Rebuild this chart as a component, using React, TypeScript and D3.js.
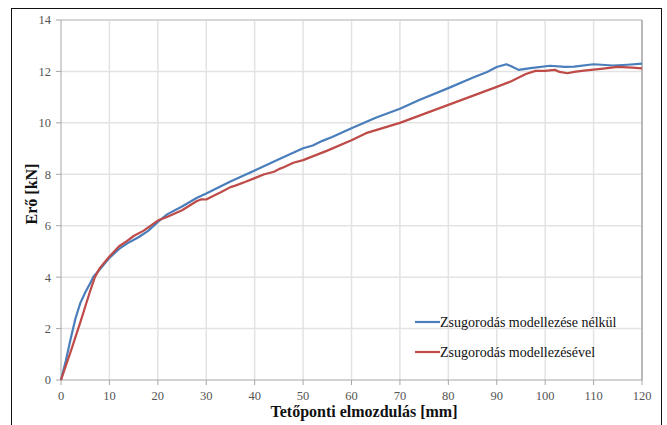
import React from "react";
import * as d3 from "d3";

// Roof displacement [mm] and force [kN] for the two models
const blueX = [0, 1, 2, 3, 4, 4.6, 5, 6, 6.7, 8, 10, 12, 14, 16, 18, 20, 22, 25, 28, 30, 35, 40, 45, 50, 52, 54, 56, 60, 65, 70, 74, 80, 85, 88, 90, 92, 93, 94.5, 97, 101, 104, 106, 110, 114, 117, 120];
const blueY = [0, 0.75, 1.6, 2.4, 3.0, 3.24, 3.4, 3.75, 4.02, 4.3, 4.75, 5.1, 5.35, 5.55, 5.8, 6.15, 6.45, 6.75, 7.08, 7.25, 7.72, 8.15, 8.58, 9.01, 9.12, 9.3, 9.45, 9.79, 10.2, 10.55, 10.89, 11.35, 11.75, 11.98, 12.17, 12.28, 12.2, 12.06, 12.13, 12.22, 12.18, 12.19, 12.28, 12.23, 12.26, 12.3];

const redX = [0, 2, 4, 5, 6, 7, 8, 10, 12, 13.6, 15, 17, 20, 22, 25, 28, 29, 30, 31, 33, 35, 36, 38, 40, 42, 44, 45, 46, 48, 50, 55, 60, 63, 70, 75, 80, 85, 90, 93, 96, 98, 100, 102, 103, 104.6, 106, 108, 111.5, 115, 118, 120];
const redY = [0, 1.1, 2.25, 2.85, 3.45, 4.0, 4.35, 4.8, 5.2, 5.4, 5.6, 5.8, 6.2, 6.35, 6.6, 6.95, 7.03, 7.02, 7.12, 7.3, 7.5, 7.56, 7.7, 7.85, 8.0, 8.1, 8.2, 8.27, 8.45, 8.55, 8.92, 9.32, 9.6, 10.0, 10.35, 10.7, 11.05, 11.4, 11.62, 11.9, 12.02, 12.02, 12.06, 11.98, 11.93, 11.98, 12.03, 12.1, 12.18, 12.15, 12.12];

const xTicks = [0, 10, 20, 30, 40, 50, 60, 70, 80, 90, 100, 110, 120];
const yTicks = [0, 2, 4, 6, 8, 10, 12, 14];

const seriesNames = ["Zsugorodás modellezése nélkül", "Zsugorodás modellezésével"];
const seriesColors = ["#4a7ebb", "#be4b48"];
const xTitle = "Tetőponti elmozdulás [mm]";
const yTitle = "Erő [kN]";

const W = 667;
const H = 425;
const left = 61;
const right = 642;
const top = 20;
const bottom = 380;

const serif = "Liberation Serif, Times New Roman, DejaVu Serif, serif";

export default function App() {
  const x = d3.scaleLinear().domain([0, 120]).range([left, right]);
  const y = d3.scaleLinear().domain([0, 14]).range([bottom, top]);

  const line = d3
    .line<[number, number]>()
    .x((d) => x(d[0]))
    .y((d) => y(d[1]));

  const bluePts = blueX.map((v, i) => [v, blueY[i]] as [number, number]);
  const redPts = redX.map((v, i) => [v, redY[i]] as [number, number]);

  return (
    <svg
      width={W}
      height={H}
      style={{ position: "absolute", left: 0, top: 0, display: "block", background: "#fff", fontFamily: serif }}
    >
      {/* outer frame */}
      <rect x={11.5} y={8.5} width={650} height={430} fill="none" stroke="#111" strokeWidth={1} />

      {/* grid */}
      {yTicks.slice(1).map((t) => (
        <line key={"gy" + t} x1={left} x2={right} y1={y(t)} y2={y(t)} stroke="#e3e3e3" strokeWidth={1.5} />
      ))}
      {xTicks.slice(1).map((t) => (
        <line key={"gx" + t} x1={x(t)} x2={x(t)} y1={top} y2={bottom} stroke="#e3e3e3" strokeWidth={1.5} />
      ))}

      {/* plot border top/right */}
      <line x1={left} x2={right} y1={top} y2={top} stroke="#c4c4c4" strokeWidth={1.2} />
      <line x1={right} x2={right} y1={top} y2={bottom} stroke="#a8a8a8" strokeWidth={1.5} />

      {/* axes */}
      <line x1={left} x2={left} y1={top} y2={bottom} stroke="#a6a6a6" strokeWidth={1} />
      <line x1={left} x2={right} y1={bottom} y2={bottom} stroke="#a6a6a6" strokeWidth={1} />
      {yTicks.map((t) => (
        <g key={"ty" + t}>
          <line x1={left - 5} x2={left} y1={y(t)} y2={y(t)} stroke="#a6a6a6" />
          <text x={left - 10} y={y(t)} dy="0.35em" textAnchor="end" style={{ fontFamily: serif }} fontSize={12.5} fill="#555">
            {t}
          </text>
        </g>
      ))}
      {xTicks.map((t) => (
        <g key={"tx" + t}>
          <line x1={x(t)} x2={x(t)} y1={bottom} y2={bottom + 5} stroke="#a6a6a6" />
          <text x={x(t)} y={bottom + 20} textAnchor="middle" style={{ fontFamily: serif }} fontSize={12.5} fill="#555">
            {t}
          </text>
        </g>
      ))}

      {/* series */}
      <path d={line(bluePts) || ""} fill="none" stroke={seriesColors[0]} strokeWidth={2.2} strokeLinejoin="round" />
      <path d={line(redPts) || ""} fill="none" stroke={seriesColors[1]} strokeWidth={2.2} strokeLinejoin="round" />

      {/* axis titles */}
      <text
        x={364}
        y={417}
        textAnchor="middle"
        style={{ fontFamily: serif }}
        fontSize={16}
        fontWeight="bold"
        fill="#111"
      >
        {xTitle}
      </text>
      <text
        transform={`translate(37,194) rotate(-90)`}
        textAnchor="middle"
        style={{ fontFamily: serif }}
        fontSize={16}
        fontWeight="bold"
        fill="#111"
      >
        {yTitle}
      </text>

      {/* legend */}
      {seriesNames.map((name, i) => (
        <g key={name} transform={`translate(415,${322 + i * 30})`}>
          <line x1={0} x2={25} y1={0} y2={0} stroke={seriesColors[i]} strokeWidth={2.2} />
          <text x={25} y={0} dy="0.35em" style={{ fontFamily: serif }} fontSize={14} fill="#111">
            {name}
          </text>
        </g>
      ))}
    </svg>
  );
}
